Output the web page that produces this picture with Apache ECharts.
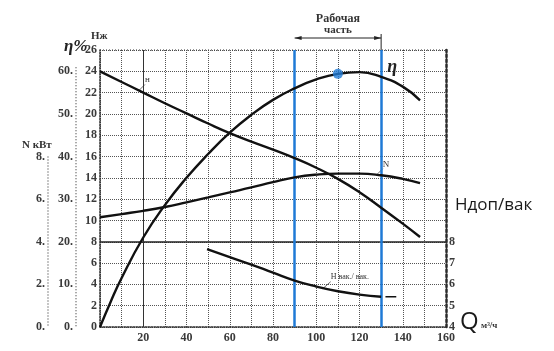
<!DOCTYPE html>
<html><head><meta charset="utf-8">
<script src="https://cdn.jsdelivr.net/npm/echarts@6/dist/echarts.min.js"></script>
<style>html,body{margin:0;padding:0;background:#fff}#c{width:554px;height:351px}</style>
</head><body><div id="c"></div>
<script>
// ---- data ----
const qTicksLabel = [20,40,60,80,100,120,140,160];
const qHead = [0,10,20,30,40,50,60,70,80,90,100,110,120,130,140,148];
const head  = [24,23.0,22.0,21.0,20.05,19.1,18.2,17.4,16.65,15.85,14.95,13.9,12.65,11.2,9.7,8.45];
const qEta  = [0,5,10,20,30,40,50,60,70,80,90,100,110,120,130,140,148];
const eta   = [0,6,11.5,21.0,28.6,35,40.6,45.6,49.8,53.3,56.0,58.1,59.4,59.8,58.7,56.4,53.2];
const qPow  = [0,10,20,30,40,50,60,70,80,90,100,110,120,130,140,148];
const power = [5.15,5.3,5.45,5.63,5.85,6.08,6.32,6.55,6.8,7.02,7.15,7.2,7.2,7.12,6.95,6.75];
const qVac  = [49.5,60,70,80,90,100,110,120,130];
const vac   = [7.66,7.28,6.93,6.55,6.18,5.9,5.68,5.52,5.42];
const qVacTail = [132,137];
const vacTail  = [5.42,5.42];
const workRange = [90,130];
const bestPoint = [110,59.4];
const hLabels = [0,2,4,6,8,10,12,14,16,18,20,22,24,26];
const etaLabels = [0,10,20,30,40,50,60];
const nLabels = [0,2,4,6,8];
const vacLabels = [4,5,6,7,8];

const zip = (a,b)=>a.map((x,i)=>[x,b[i]]);
const serif = '"Liberation Serif","DejaVu Serif",serif';
const ink = '#2b2b2b';
const blue = '#1f7ad6';

const chart = echarts.init(document.getElementById('c'), null, {renderer:'canvas'});
const lblStyle = {fontFamily:serif, fontWeight:'bold', fontSize:12, color:'#3a3a3a'};

const option = {
  animation:false,
  backgroundColor:'#fff',
  grid:{left:100, top:50, width:346, height:277, containLabel:false},
  xAxis:{type:'value', min:0, max:160, interval:10,
    axisLine:{show:true, lineStyle:{color:ink, type:'dotted', width:1.5}},
    axisTick:{show:false},
    axisLabel:{...lblStyle, margin:5, formatter:v=>qTicksLabel.includes(v)?String(v):''},
    splitLine:{show:true, lineStyle:{color:'#555', type:'dotted', width:1}}
  },
  yAxis:[
    {type:'value', min:0, max:26, interval:2, position:'left',
      axisLine:{show:true, lineStyle:{color:ink, type:'dotted', width:1.5}},
      axisTick:{show:false},
      axisLabel:{...lblStyle, margin:3, formatter:v=>hLabels.includes(v)?String(v):''},
      splitLine:{show:true, lineStyle:{color:'#555', type:'dotted', width:1}}},
    {type:'value', min:0, max:65, interval:10, position:'left', offset:24,
      axisLine:{show:false}, axisTick:{show:false},
      axisLabel:{...lblStyle, margin:3, formatter:v=>etaLabels.includes(v)?v+'.':''},
      splitLine:{show:false}},
    {type:'value', min:0, max:13, interval:2, position:'left', offset:52,
      axisLine:{show:false}, axisTick:{show:false},
      axisLabel:{...lblStyle, margin:3, formatter:v=>nLabels.includes(v)?v+'.':''},
      splitLine:{show:false}},
    {type:'value', min:4, max:17, interval:1, position:'right',
      axisLine:{show:true, lineStyle:{color:ink, type:'dotted', width:2.5}},
      axisTick:{show:false},
      axisLabel:{...lblStyle, margin:3, formatter:v=>vacLabels.includes(v)?String(v):''},
      splitLine:{show:false}}
  ],
  series:[
    {type:'line', name:'H', yAxisIndex:0, data:zip(qHead,head), smooth:0.5, showSymbol:false,
      lineStyle:{color:'#111', width:2.4}, z:5,
      markLine:{silent:true, symbol:'none', label:{show:false},
        data:[
          {yAxis:8, lineStyle:{color:'#222', type:'solid', width:1.5}},
          {xAxis:20, lineStyle:{color:'#333', type:'solid', width:1}}
        ]}},
    {type:'line', name:'eta', yAxisIndex:1, data:zip(qEta,eta), smooth:0.5, showSymbol:false,
      lineStyle:{color:'#111', width:2.4}, z:5},
    {type:'line', name:'N', yAxisIndex:2, data:zip(qPow,power), smooth:0.5, showSymbol:false,
      lineStyle:{color:'#111', width:2.4}, z:5},
    {type:'line', name:'vac', yAxisIndex:3, data:zip(qVac,vac), smooth:0.5, showSymbol:false,
      lineStyle:{color:'#111', width:2.4}, z:5},
    {type:'line', name:'vacTail', yAxisIndex:3, data:zip(qVacTail,vacTail), showSymbol:false,
      lineStyle:{color:'#111', width:1.5}, z:5},
    {type:'line', name:'work', yAxisIndex:0, data:[], showSymbol:false,
      markLine:{silent:true, symbol:'none', label:{show:false},
        lineStyle:{color:blue, type:'solid', width:2.5},
        data:workRange.map(v=>({xAxis:v}))}, z:8},
    {type:'scatter', name:'best', yAxisIndex:1, data:[bestPoint], symbolSize:10,
      itemStyle:{color:blue}, z:10}
  ]
};
chart.setOption(option);

// annotations positioned from data coordinates
const px = (q,v,yi)=>chart.convertToPixel({xAxisIndex:0,yAxisIndex:yi},[q,v]);
const pTop = px(0,26,0), pBot = px(0,0,0);
const etaX = pTop[0]-24, nX = pTop[0]-52;
const eta60 = px(0,60,1)[1], n8 = px(0,8,2)[1];
const wl = px(workRange[0],26,0), wr = px(workRange[1],26,0);
const arrowY = wl[1]-12;
const mid = (wl[0]+wr[0])/2;
const g = [];
// left dotted axis lines
g.push({type:'line', shape:{x1:etaX,y1:eta60-4,x2:etaX,y2:pBot[1]}, style:{stroke:'#444', lineWidth:1.2, lineDash:[1,2]}});
g.push({type:'line', shape:{x1:nX,y1:n8,x2:nX,y2:pBot[1]}, style:{stroke:'#444', lineWidth:1.2, lineDash:[1,2]}});
// top border
g.push({type:'line', shape:{x1:pTop[0],y1:pTop[1],x2:px(160,26,0)[0],y2:pTop[1]}, style:{stroke:'#333', lineWidth:1.2, lineDash:[1,2]}});
// axis titles
g.push({type:'text', x:pTop[0]-9, y:pTop[1]-19, style:{text:'Нж', font:'bold 11px '+serif, fill:'#333'}});
g.push({type:'text', x:etaX-12, y:pTop[1]-12, style:{text:'η%', font:'italic bold 17px '+serif, fill:'#222'}});
g.push({type:'text', x:nX-26, y:n8-17, style:{text:'N кВт', font:'bold 11px '+serif, fill:'#333'}});
// working range annotation
g.push({type:'text', x:mid, y:arrowY-25, style:{text:'Рабочая', font:'bold 12px '+serif, fill:'#333', align:'center'}});
g.push({type:'text', x:mid, y:arrowY-13, style:{text:'часть', font:'bold 11px '+serif, fill:'#333', align:'center'}});
g.push({type:'line', shape:{x1:wl[0],y1:arrowY,x2:wr[0],y2:arrowY}, style:{stroke:'#222', lineWidth:1}});
g.push({type:'polygon', shape:{points:[[wl[0],arrowY],[wl[0]+7,arrowY-2],[wl[0]+7,arrowY+2]]}, style:{fill:'#222'}});
g.push({type:'polygon', shape:{points:[[wr[0],arrowY],[wr[0]-7,arrowY-2],[wr[0]-7,arrowY+2]]}, style:{fill:'#222'}});
g.push({type:'line', shape:{x1:wr[0],y1:arrowY-4,x2:wr[0],y2:wr[1]}, style:{stroke:'#222', lineWidth:1}});
// curve labels
const hl = px(18,22.2,0);
g.push({type:'line', shape:{x1:hl[0],y1:hl[1],x2:hl[0]+6,y2:hl[1]-6}, style:{stroke:'#444', lineWidth:0.8}});
g.push({type:'text', x:hl[0]+6, y:hl[1]-15, style:{text:'н', font:'9px '+serif, fill:'#333'}});
const nl = px(128,7.15,2);
g.push({type:'line', shape:{x1:nl[0],y1:nl[1],x2:nl[0]+6,y2:nl[1]-6}, style:{stroke:'#444', lineWidth:0.8}});
g.push({type:'text', x:nl[0]+6, y:nl[1]-15, style:{text:'N', font:'9px '+serif, fill:'#333'}});
const el = px(131,58.3,1);
g.push({type:'text', x:el[0]+4, y:el[1]-20, style:{text:'η', font:'italic bold 18px '+serif, fill:'#222'}});
const vl = px(103,5.8,3);
g.push({type:'line', shape:{x1:vl[0],y1:vl[1],x2:vl[0]+8,y2:vl[1]-7}, style:{stroke:'#444', lineWidth:0.8}});
g.push({type:'text', x:vl[0]+8, y:vl[1]-16, style:{text:'Н вак./ вак.', font:'8px '+serif, fill:'#333'}});
// right-side titles
const rb = px(160,0,0);
g.push({type:'text', x:rb[0]+9, y:px(160,12,0)[1]-2, style:{text:'Ндоп/вак', font:'17px "Open Sans", "Noto Sans", sans-serif', fill:'#1a1a1a'}});
g.push({type:'text', x:rb[0]+14, y:rb[1]-17, style:{text:'Q', font:'24px "Open Sans", "Noto Sans", sans-serif', fill:'#1a1a1a'}});
g.push({type:'text', x:rb[0]+35, y:rb[1]-6, style:{text:'м³/ч', font:'bold 9px '+serif, fill:'#333'}});
chart.setOption({graphic:g});
</script>
</body></html>
